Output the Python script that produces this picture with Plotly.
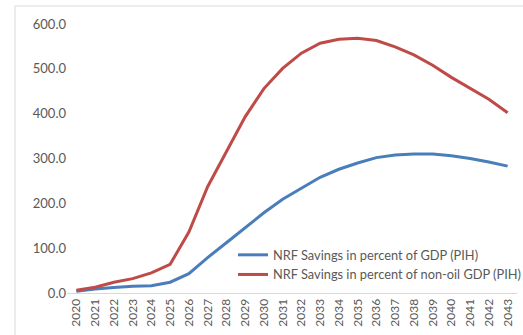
import plotly.graph_objects as go

years = [str(y) for y in range(2020, 2044)]
pct_gdp = [4, 9, 12, 15, 16, 24, 43, 79, 112, 146, 179, 209, 234, 258, 276, 290,
           302, 308, 310, 310, 306, 300, 292, 283]
pct_nonoil_gdp = [6, 13, 24, 32, 45, 64, 136, 237, 315, 393, 456, 501, 535, 557, 566, 568,
                  563, 549, 531, 508, 481, 456, 432, 402]
y_ticks = [0, 100, 200, 300, 400, 500, 600]

W, H = 523, 335
L, R, T, B = 67, 6, 24, 42

fig = go.Figure()
fig.add_trace(go.Scatter(
    x=years, y=pct_gdp, mode="lines",
    name="NRF Savings in percent of GDP (PIH)",
    line=dict(color="#4A7EBB", width=3),
))
fig.add_trace(go.Scatter(
    x=years, y=pct_nonoil_gdp, mode="lines",
    name="NRF Savings in percent of non-oil GDP (PIH)",
    line=dict(color="#BE4B48", width=3),
))

pw = W - L - R
ph = H - T - B

# light frame around the chart area
fig.add_shape(type="rect", xref="paper", yref="paper",
              x0=(15 - L) / pw, x1=1.2, y0=-0.5, y1=(H - B - 6) / ph,
              line=dict(color="#D9D9D9", width=1), fillcolor="rgba(0,0,0,0)",
              layer="below")

fig.update_layout(
    width=W, height=H,
    margin=dict(l=L, r=R, t=T, b=B, autoexpand=False),
    paper_bgcolor="white", plot_bgcolor="white",
    font=dict(family="Lato, Open Sans, sans-serif", size=12, color="#595959"),
    showlegend=True,
    legend=dict(
        x=(233 - L) / pw, y=(H - B - 240) / ph,
        xanchor="left", yanchor="top",
        bgcolor="rgba(0,0,0,0)",
        font=dict(size=12.8, color="#595959"),
        tracegroupgap=0,
    ),
    xaxis=dict(
        type="category", range=[-0.5, 23.5],
        showgrid=False, showline=True, linecolor="#D9D9D9", linewidth=1,
        ticks="", tickangle=-90, tickfont=dict(size=12, color="#595959"),
        zeroline=False,
    ),
    yaxis=dict(
        range=[0, 600], tickvals=y_ticks,
        ticktext=[f"{v:.1f}" for v in y_ticks],
        showgrid=False, zeroline=False, showline=False, ticks="",
        tickfont=dict(size=13, color="#595959"),
    ),
)

fig.write_html("out.html")
